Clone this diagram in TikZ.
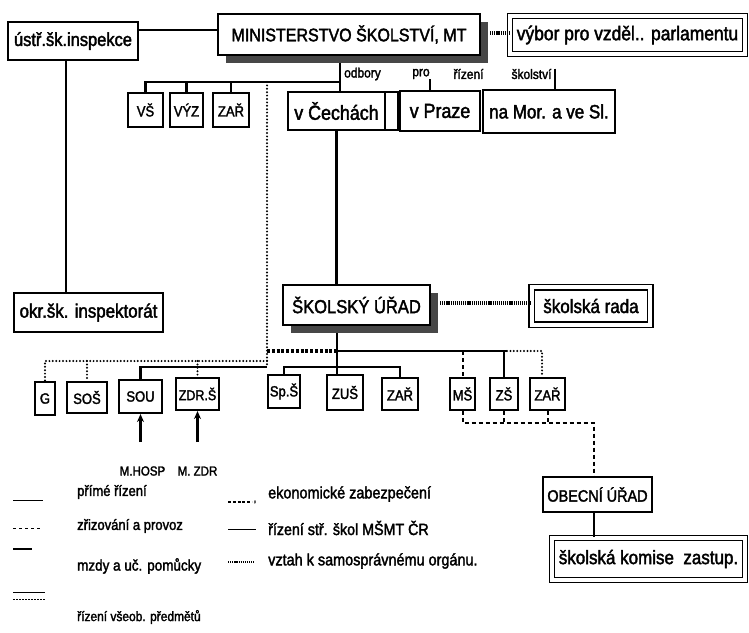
\documentclass[tikz,border=0pt]{standalone}
\usepackage{fontspec}
\setmainfont{Liberation Sans}[FakeStretch=0.88,FakeBold=2]
\usetikzlibrary{arrows.meta,shadows}
\begin{document}
\begin{tikzpicture}[x=1pt,y=-1pt,
  f/.style={font=\fontsize{#1}{#1}\selectfont},
  bx/.style={draw,line width=2.6pt,inner sep=0pt,fill=white},
  sbx/.style={draw,line width=2.1pt,inner sep=0pt,fill=white},
  dbx/.style={draw,double,double distance=3.6pt,line width=1.6pt,inner sep=0pt},
  shd/.style={general shadow={fill=black!72,shadow xshift=8pt,shadow yshift=-8pt}},
  con/.style={line width=2.3pt},
  dotl/.style={line width=2.2pt,line cap=round,dash pattern=on 0pt off 3.4pt},
  ekon/.style={line width=3.2pt,dash pattern=on 3pt off 1.8pt},
  vzt/.style={line width=3.2pt,dash pattern=on 1.2pt off 0.9pt},
  zriz/.style={line width=2pt,dash pattern=on 4pt off 3pt},
  lbl/.style={anchor=west,inner sep=0pt},
  tip/.style={-{Stealth[length=8pt,width=7pt]}},
]
\useasboundingbox (0,0) rectangle (749,632);

% top row
\node[bx,shd,f=18.2,minimum width=262pt,minimum height=41pt] (min) at (349,34.5) {MINISTERSTVO ŠKOLSTVÍ, MT};
\node[bx,f=18.7,minimum width=130pt,minimum height=38pt] (ustr) at (73,41) {ústř.šk.inspekce};
\node[dbx,f=19.8,minimum width=235pt,minimum height=38pt] (vybor) at (627.5,35) {výbor pro vzděl.. parlamentu};

% second row
\node[sbx,f=14.8,minimum width=35pt,minimum height=34pt] (vs) at (145.5,110) {VŠ};
\node[sbx,f=14.8,minimum width=33pt,minimum height=34pt] (vyz) at (186.5,110) {VÝZ};
\node[sbx,f=14.8,minimum width=36pt,minimum height=34pt] (zara) at (231,110) {ZAŘ};
\node[bx,f=20.3,minimum width=97pt,minimum height=38pt] (cech) at (336.5,111) {v Čechách};
\node[bx,minimum width=13pt,minimum height=38pt] (gap) at (391.5,111) {};
\node[bx,f=20.3,minimum width=80pt,minimum height=40pt] (praha) at (440,111) {v Praze};
\node[bx,f=19.3,minimum width=132pt,minimum height=43pt] (mor) at (549,111.5) {na Mor. a ve Sl.};

\node[f=13.6,inner sep=0pt] (o1) at (362.5,74) {odbory};
\node[f=13.6,inner sep=0pt] (o2) at (421,74) {pro};
\node[f=13.6,inner sep=0pt] (o3) at (468.5,74) {řízení};
\node[f=13.6,inner sep=0pt] (o4) at (531.5,74) {školství};

% middle
\node[bx,f=19.2,minimum width=149pt,minimum height=39pt] (okr) at (88.5,312.5) {okr.šk. inspektorát};
\node[bx,shd,f=18.8,minimum width=147pt,minimum height=40pt] (su) at (356.5,305) {ŠKOLSKÝ ÚŘAD};
\node[dbx,f=19.3,minimum width=118.5pt,minimum height=37.5pt] (rada) at (591,306) {školská rada};

% bottom boxes
\node[sbx,f=14.8,minimum width=20pt,minimum height=33pt] (g) at (45,398.5) {G};
\node[sbx,f=14.8,minimum width=40pt,minimum height=31pt] (sos) at (87,397.5) {SOŠ};
\node[sbx,f=14.8,minimum width=43pt,minimum height=33pt] (sou) at (140.5,396.5) {SOU};
\node[sbx,f=14.2,minimum width=43pt,minimum height=32pt] (zdr) at (197.5,394) {ZDR.Š};
\node[sbx,f=14.8,minimum width=32pt,minimum height=33pt] (sps) at (284,391.5) {Sp.Š};
\node[sbx,f=14.8,minimum width=36pt,minimum height=35pt] (zus) at (345,392.5) {ZUŠ};
\node[sbx,f=14.8,minimum width=36pt,minimum height=32pt] (zarb) at (400,394) {ZAŘ};
\node[sbx,f=14.8,minimum width=25pt,minimum height=32pt] (ms) at (462.5,394) {MŠ};
\node[sbx,f=14.8,minimum width=28pt,minimum height=32pt] (zs) at (504,394) {ZŠ};
\node[sbx,f=14.8,minimum width=35pt,minimum height=32pt] (zarc) at (547.5,394) {ZAŘ};

\node[bx,f=16.4,minimum width=109pt,minimum height=35pt] (obec) at (597.5,494.5) {OBECNÍ ÚŘAD};
\node[dbx,f=19.3,minimum width=193pt,minimum height=42pt] (komise) at (648.5,559) {školská komise\ \ zastup.};

\node[f=13.1,inner sep=0pt] (mh) at (142.5,471) {M.HOSP};
\node[f=13.1,inner sep=0pt] (mz) at (197.5,471) {M. ZDR};

% coordinates
\coordinate (ly) at (0,30);
\coordinate (ux) at (66,0);
\coordinate (vy) at (490,33);
\coordinate (mv) at (340,63);
\coordinate (j1) at (340,82);
\coordinate (d0) at (267,82);
\coordinate (d1) at (267,351);
\coordinate (d3) at (267,361);
\coordinate (d2) at (267,367);
\coordinate (ry) at (440,303);
\coordinate (s0) at (337,333);
\coordinate (j2) at (337,351);
\coordinate (j3) at (337,367);
\coordinate (r1) at (507,351);
\coordinate (r2) at (542,351);
\coordinate (b1) at (0,423);
\coordinate (ox) at (594,0);
\coordinate (a1) at (140.5,442);
\coordinate (a2) at (197.5,442);

% top connectors
\draw[con] (ustr.east |- ly) -- (min.west |- ly);
\draw[vzt] (vy) -- (vybor.west |- vy);
\draw[con] (ux |- ustr.south) -- (ux |- okr.north);
\draw[con] (mv) -- (mv |- cech.north);
\draw[con] (j1) -- (vs.north |- j1) -- (vs.north);
\draw[con] (vyz.north |- j1) -- (vyz.north);
\draw[con] (zara.north |- j1) -- (zara.north);
\draw[con] (o2.south east) -- (o2.south east |- praha.north);
\draw[con] ([xshift=3pt]o4.north east) -- ([xshift=3pt]o4.north east |- mor.north);
\draw[con] (cech.south) -- (cech.south |- su.north);

% middle connectors
\draw[vzt] (ry) -- (rada.west |- ry);
\draw[dotl] (d0) -- (d2);
\draw[ekon] (d1) -- (j2);
\draw[con] (s0) -- (s0 |- zus.north);
\draw[con] (sps.north) -- (sps.north |- j3) -- (zarb.north |- j3) -- (zarb.north);
\draw[con] (j2) -- (r1);
\draw[dotl] (r1) -- (r2) -- (r2 |- zarc.north);
\draw[zriz] (ms.north |- j2) -- (ms.north);
\draw[con] (zs.north |- j2) -- (zs.north);

% left school branch
\draw[dotl] (d3) -- (g.north |- d3) -- (g.north);
\draw[dotl] (sos.north |- d3) -- (sos.north);
\draw[dotl] (zdr.north |- d3) -- (zdr.north);
\draw[con] (d2) -- (sou.north |- d2) -- (sou.north);
\draw[con,tip] (a1) -- (sou.south);
\draw[con,tip] (a2) -- (zdr.south);

% bottom right
\draw[zriz] (ms.south) -- (ms.south |- b1) -- (ox |- b1) -- (ox |- obec.north);
\draw[zriz] (zs.south) -- (zs.south |- b1);
\draw[zriz] (zarc.south) -- (zarc.south |- b1);
\draw[con] (ox |- obec.south) -- (ox |- komise.north);

% legend
\node[lbl,f=14.8] (l1) at (77,492) {přímé řízení};
\node[lbl,f=14.8] (l2) at (77,526) {zřizování a provoz};
\node[lbl,f=15.3] (l3) at (77,566) {mzdy a uč. pomůcky};
\node[lbl,f=13.6] (l4) at (77,617) {řízení všeob. předmětů};
\node[lbl,f=16.4] (l5) at (268,494) {ekonomické zabezpečení};
\node[lbl,f=16.2] (l6) at (268,528) {řízení stř. škol MŠMT ČR};
\node[lbl,f=16.4] (l7) at (268,561) {vztah k samosprávnému orgánu.};

\draw[line width=0.9pt] (13,500) -- (43,500);
\draw[line width=0.9pt,dash pattern=on 3pt off 3pt] (13,528) -- (43,528);
\draw[line width=1.4pt] (13,549) -- (32,549);
\draw[line width=0.8pt] (13,592) -- (45,592);
\draw[line width=0.8pt,dash pattern=on 1.5pt off 1.5pt] (13,599) -- (45,599);
\draw[ekon,line width=2.6pt] (228,502) -- (252,502);
\node[f=11,inner sep=0pt] (cm) at (255,502) {,};
\draw[line width=0.9pt] (228,529) -- (256,529);
\draw[vzt,line width=2.6pt] (228,562) -- (255,562);
\end{tikzpicture}
\end{document}
